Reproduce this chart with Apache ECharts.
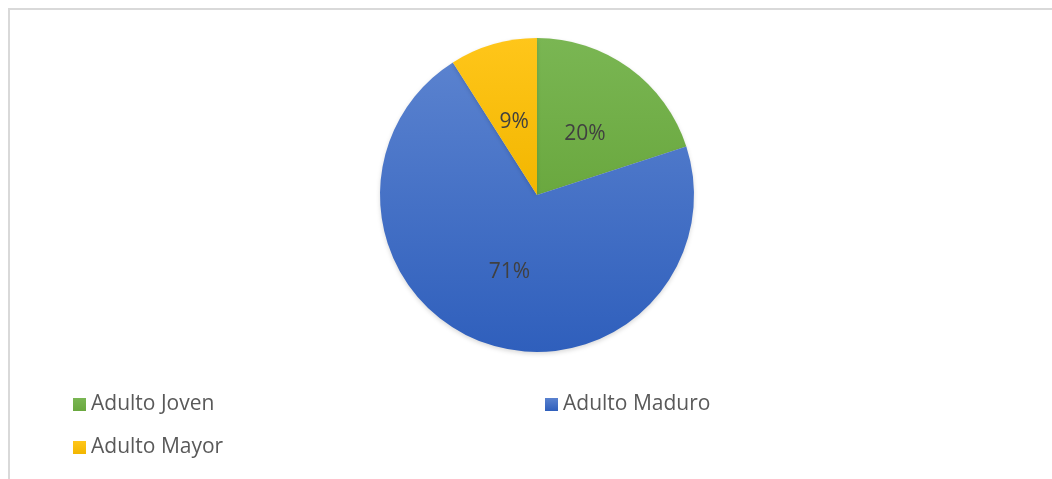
<!DOCTYPE html>
<html>
<head>
<meta charset="utf-8">
<script src="https://cdn.jsdelivr.net/npm/echarts@6/dist/echarts.min.js"></script>
<style>
html,body{margin:0;padding:0;background:#fff;}
#chart{width:1052px;height:479px;}
</style>
</head>
<body>
<div id="chart"></div>
<script>
const categories = ['Adulto Joven', 'Adulto Maduro', 'Adulto Mayor'];
const values = [20, 71, 9];
const colors = [
  ['#7ab653', '#6aa83f'],
  ['#5a82cf', '#2f5fbc'],
  ['#ffc61a', '#f2b600']
];

const chart = echarts.init(document.getElementById('chart'), null, {renderer: 'canvas'});
const grad = (c) => new echarts.graphic.LinearGradient(0, 0, 0, 1, [
  {offset: 0, color: c[0]}, {offset: 1, color: c[1]}
]);
const legendText = {fontFamily: 'Open Sans', fontSize: 21, color: '#595959'};
const legendBase = {
  orient: 'horizontal', icon: 'rect', itemWidth: 13, itemHeight: 13, itemGap: 6,
  textStyle: legendText, selectedMode: false, padding: 0
};
const labelShift = [[0, 5], [0, 0], [0, 5]];
chart.setOption({
  animation: false,
  color: colors.map(c => c[1]),
  graphic: [{
    type: 'rect', shape: {x: 9, y: 9, width: 1100, height: 500},
    style: {fill: 'none', stroke: '#d9d9d9', lineWidth: 2}, silent: true, z: -1
  }],
  legend: [
    Object.assign({}, legendBase, {data: [categories[0]], left: 73, top: 394}),
    Object.assign({}, legendBase, {data: [categories[1]], left: 545, top: 394}),
    Object.assign({}, legendBase, {data: [categories[2]], left: 73, top: 437})
  ],
  series: [{
    type: 'pie',
    center: [537, 195],
    radius: [0, 157],
    startAngle: 90,
    clockwise: true,
    label: {
      show: true, position: 'inside',
      formatter: (p) => p.value + '%',
      fontFamily: 'Open Sans', fontSize: 21, color: '#404040'
    },
    labelLine: {show: false},
    itemStyle: {borderWidth: 0, shadowBlur: 4, shadowColor: 'rgba(0,0,0,0.15)', shadowOffsetY: 2},
    emphasis: {disabled: true},
    data: categories.map((n, i) => ({
      name: n, value: values[i],
      itemStyle: {color: grad(colors[i])},
      label: {offset: labelShift[i]}
    }))
  }]
});
</script>
</body>
</html>
